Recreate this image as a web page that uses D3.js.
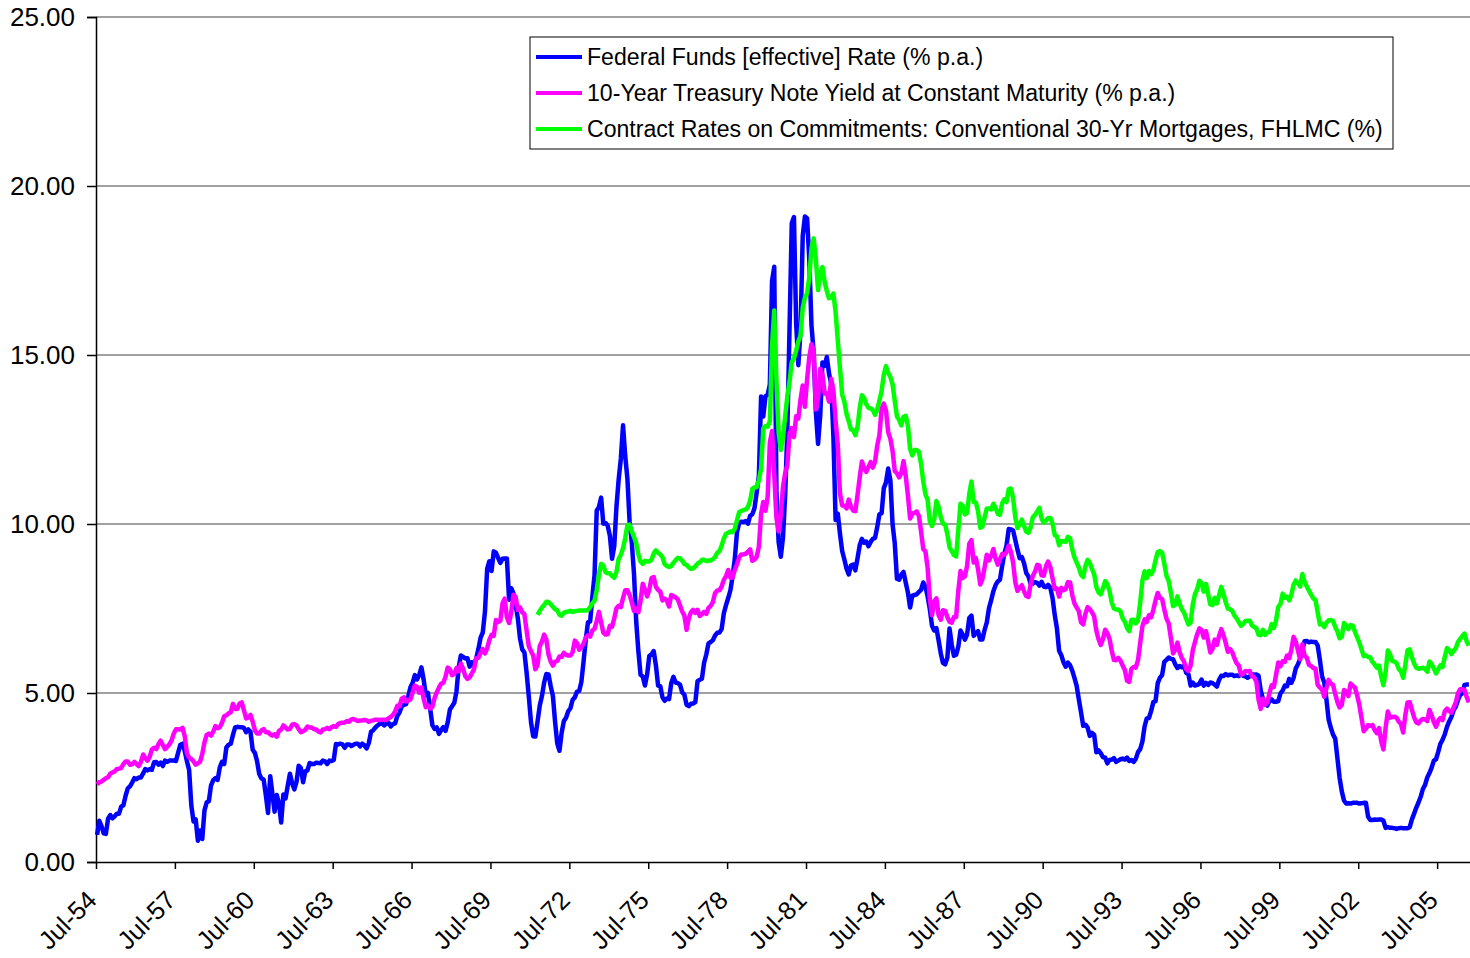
<!DOCTYPE html>
<html>
<head>
<meta charset="utf-8">
<script src="https://cdn.jsdelivr.net/npm/d3@7"></script>
<style>
  body { margin: 0; background: #fff; }
  text { font-family: Arial, "Liberation Sans", sans-serif; fill: #000; }
</style>
</head>
<body>
<div id="chart"></div>
<script>
// Monthly values, Jul-1954 .. Sep-2006 (one row per calendar year)
const fedFunds = [
  0.80, 1.22, 1.06, 0.85, 0.83, 1.28,
  1.39, 1.29, 1.35, 1.43, 1.43, 1.64, 1.68, 1.96, 2.18, 2.24, 2.35, 2.48,
  2.45, 2.50, 2.50, 2.62, 2.75, 2.71, 2.75, 2.73, 2.95, 2.96, 2.88, 2.94,
  2.84, 3.00, 2.96, 3.00, 3.00, 3.00, 2.99, 3.24, 3.47, 3.50, 3.28, 2.98,
  2.72, 1.67, 1.20, 1.26, 0.63, 0.93, 0.68, 1.53, 1.76, 1.80, 2.27, 2.42,
  2.48, 2.43, 2.80, 2.96, 2.90, 3.39, 3.47, 3.50, 3.76, 3.98, 4.00, 3.99,
  3.99, 3.97, 3.84, 3.92, 3.85, 3.32, 3.23, 2.98, 2.60, 2.47, 2.44, 1.98,
  1.45, 2.54, 2.02, 1.49, 1.98, 1.73, 1.17, 2.00, 1.88, 2.26, 2.61, 2.33,
  2.15, 2.37, 2.85, 2.78, 2.36, 2.68, 2.71, 2.93, 2.90, 2.90, 2.94, 2.93,
  2.92, 3.00, 2.98, 2.90, 3.00, 2.99, 3.02, 3.49, 3.48, 3.50, 3.48, 3.38,
  3.48, 3.48, 3.43, 3.47, 3.50, 3.50, 3.42, 3.50, 3.45, 3.36, 3.52, 3.85,
  3.90, 3.98, 4.04, 4.09, 4.10, 4.04, 4.09, 4.12, 4.01, 4.08, 4.10, 4.32,
  4.42, 4.60, 4.65, 4.67, 4.90, 5.17, 5.30, 5.53, 5.40, 5.53, 5.76, 5.40,
  4.94, 5.00, 4.53, 4.05, 3.94, 3.98, 3.79, 3.90, 3.99, 3.88, 4.13, 4.51,
  4.61, 4.71, 5.05, 5.76, 6.11, 6.07, 6.02, 6.03, 5.78, 5.91, 5.82, 6.02,
  6.30, 6.64, 6.79, 7.41, 8.67, 8.90, 8.61, 9.19, 9.15, 9.00, 8.85, 8.97,
  8.98, 8.98, 7.76, 8.10, 7.95, 7.61, 7.21, 6.61, 6.29, 6.20, 5.60, 4.90,
  4.14, 3.72, 3.71, 4.16, 4.63, 4.91, 5.31, 5.56, 5.55, 5.20, 4.91, 4.14,
  3.50, 3.29, 3.83, 4.17, 4.27, 4.46, 4.55, 4.80, 4.87, 5.04, 5.06, 5.33,
  5.94, 6.58, 7.09, 7.12, 7.84, 8.49, 10.40, 10.50, 10.78, 10.01, 10.03, 9.95,
  9.65, 8.97, 9.35, 10.51, 11.31, 11.93, 12.92, 12.01, 11.34, 10.06, 9.45, 8.53,
  7.13, 6.24, 5.54, 5.49, 5.22, 5.55, 6.10, 6.14, 6.24, 5.82, 5.22, 5.20,
  4.87, 4.77, 4.84, 4.82, 5.29, 5.48, 5.31, 5.29, 5.25, 5.02, 4.95, 4.65,
  4.61, 4.68, 4.69, 4.73, 5.35, 5.39, 5.42, 5.90, 6.14, 6.47, 6.51, 6.56,
  6.70, 6.78, 6.79, 6.89, 7.36, 7.60, 7.81, 8.04, 8.45, 8.96, 9.76, 10.03,
  10.07, 10.06, 10.09, 10.01, 10.24, 10.29, 10.47, 10.94, 11.43, 13.77, 13.18, 13.78,
  13.82, 14.13, 17.19, 17.61, 10.98, 9.47, 9.03, 9.61, 10.87, 12.81, 15.85, 18.90,
  19.08, 15.93, 14.70, 15.72, 18.52, 19.10, 19.04, 17.82, 15.87, 15.08, 13.31, 12.37,
  13.22, 14.78, 14.68, 14.94, 14.45, 14.15, 12.59, 10.12, 10.31, 9.71, 9.20, 8.95,
  8.68, 8.51, 8.77, 8.80, 8.63, 8.98, 9.37, 9.56, 9.45, 9.48, 9.34, 9.47,
  9.56, 9.59, 9.91, 10.29, 10.32, 11.06, 11.23, 11.64, 11.30, 9.99, 9.43, 8.38,
  8.35, 8.50, 8.58, 8.27, 7.97, 7.53, 7.88, 7.90, 7.92, 7.99, 8.05, 8.27,
  8.14, 7.86, 7.48, 6.99, 6.85, 6.92, 6.56, 6.17, 5.89, 5.85, 6.04, 6.91,
  6.43, 6.10, 6.13, 6.37, 6.85, 6.73, 6.58, 6.73, 7.22, 7.29, 6.69, 6.77,
  6.83, 6.58, 6.58, 6.87, 7.09, 7.51, 7.75, 8.01, 8.19, 8.30, 8.35, 8.76,
  9.12, 9.36, 9.85, 9.84, 9.81, 9.53, 9.24, 8.99, 9.02, 8.84, 8.55, 8.45,
  8.23, 8.24, 8.28, 8.26, 8.18, 8.29, 8.15, 8.13, 8.20, 8.11, 7.81, 7.31,
  6.91, 6.25, 6.12, 5.91, 5.78, 5.90, 5.82, 5.66, 5.45, 5.21, 4.81, 4.43,
  4.03, 4.06, 3.98, 3.73, 3.82, 3.76, 3.25, 3.30, 3.22, 3.10, 3.09, 2.92,
  3.02, 3.03, 3.07, 2.96, 3.00, 3.04, 3.06, 3.03, 3.09, 2.99, 3.02, 2.96,
  3.05, 3.25, 3.34, 3.56, 4.01, 4.25, 4.26, 4.47, 4.73, 4.76, 5.29, 5.45,
  5.53, 5.92, 5.98, 6.05, 6.01, 6.00, 5.85, 5.74, 5.80, 5.76, 5.80, 5.60,
  5.56, 5.22, 5.31, 5.22, 5.24, 5.27, 5.40, 5.22, 5.30, 5.24, 5.31, 5.29,
  5.25, 5.19, 5.39, 5.51, 5.50, 5.56, 5.52, 5.54, 5.54, 5.50, 5.52, 5.50,
  5.56, 5.51, 5.49, 5.45, 5.49, 5.56, 5.54, 5.55, 5.51, 5.07, 4.83, 4.68,
  4.63, 4.76, 4.81, 4.74, 4.74, 4.76, 4.99, 5.07, 5.22, 5.20, 5.42, 5.30,
  5.45, 5.73, 5.85, 6.02, 6.27, 6.53, 6.54, 6.50, 6.52, 6.51, 6.51, 6.40,
  5.98, 5.49, 5.31, 4.80, 4.21, 3.97, 3.77, 3.65, 3.07, 2.49, 2.09, 1.82,
  1.73, 1.74, 1.73, 1.75, 1.75, 1.75, 1.73, 1.74, 1.75, 1.75, 1.34, 1.24,
  1.24, 1.26, 1.25, 1.26, 1.26, 1.22, 1.01, 1.03, 1.01, 1.01, 1.00, 0.98,
  1.00, 1.01, 1.00, 1.00, 1.00, 1.03, 1.26, 1.43, 1.61, 1.76, 1.93, 2.16,
  2.28, 2.50, 2.63, 2.79, 3.00, 3.04, 3.26, 3.50, 3.62, 3.78, 4.00, 4.16,
  4.29, 4.49, 4.59, 4.79, 4.94, 4.99, 5.24, 5.25, 5.25
];

const tenYear = [
  2.30, 2.36, 2.38, 2.43, 2.48, 2.51,
  2.61, 2.65, 2.68, 2.75, 2.76, 2.78, 2.90, 2.97, 2.97, 2.88, 2.89, 2.96,
  2.90, 2.84, 2.96, 3.18, 3.07, 3.00, 3.11, 3.33, 3.38, 3.34, 3.49, 3.59,
  3.46, 3.34, 3.41, 3.48, 3.60, 3.80, 3.93, 3.93, 3.92, 3.97, 3.72, 3.21,
  3.09, 3.05, 2.98, 2.88, 2.92, 2.97, 3.20, 3.54, 3.76, 3.80, 3.74, 3.86,
  4.02, 3.96, 3.99, 4.12, 4.31, 4.34, 4.40, 4.43, 4.68, 4.53, 4.53, 4.69,
  4.72, 4.49, 4.25, 4.28, 4.35, 4.15, 3.90, 3.80, 3.80, 3.89, 3.93, 3.84,
  3.84, 3.78, 3.74, 3.78, 3.71, 3.88, 3.92, 4.04, 3.98, 3.92, 3.94, 4.06,
  4.08, 4.04, 3.93, 3.84, 3.87, 3.91, 4.01, 3.98, 3.98, 3.93, 3.92, 3.86,
  3.83, 3.92, 3.93, 3.97, 3.93, 3.99, 4.02, 4.00, 4.08, 4.11, 4.12, 4.13,
  4.17, 4.15, 4.22, 4.23, 4.20, 4.17, 4.19, 4.19, 4.20, 4.19, 4.15, 4.18,
  4.19, 4.21, 4.21, 4.20, 4.21, 4.21, 4.20, 4.25, 4.29, 4.35, 4.45, 4.62,
  4.61, 4.83, 4.87, 4.75, 4.78, 4.81, 5.02, 5.22, 5.18, 5.01, 5.16, 4.84,
  4.58, 4.63, 4.54, 4.59, 4.85, 5.02, 5.16, 5.28, 5.30, 5.48, 5.75, 5.70,
  5.53, 5.56, 5.74, 5.64, 5.87, 5.72, 5.50, 5.42, 5.46, 5.58, 5.70, 6.03,
  6.04, 6.19, 6.30, 6.17, 6.32, 6.57, 6.72, 6.69, 7.16, 7.10, 7.14, 7.65,
  7.79, 7.24, 7.07, 7.39, 7.91, 7.84, 7.46, 7.53, 7.39, 7.33, 6.84, 6.39,
  6.24, 6.11, 5.70, 5.83, 6.39, 6.52, 6.73, 6.58, 6.14, 5.93, 5.81, 5.93,
  5.95, 6.08, 6.07, 6.19, 6.13, 6.11, 6.11, 6.21, 6.55, 6.48, 6.28, 6.36,
  6.46, 6.64, 6.71, 6.67, 6.85, 6.90, 7.13, 7.40, 7.09, 6.79, 6.73, 6.74,
  6.99, 6.96, 7.21, 7.51, 7.58, 7.54, 7.81, 8.04, 8.04, 7.90, 7.68, 7.43,
  7.50, 7.39, 7.73, 8.23, 8.06, 7.86, 8.06, 8.40, 8.43, 8.14, 8.05, 8.00,
  7.74, 7.79, 7.73, 7.56, 7.90, 7.86, 7.83, 7.77, 7.59, 7.41, 7.29, 6.87,
  7.21, 7.39, 7.46, 7.37, 7.46, 7.28, 7.33, 7.40, 7.34, 7.52, 7.58, 7.69,
  7.96, 8.03, 8.04, 8.15, 8.35, 8.46, 8.64, 8.41, 8.42, 8.64, 8.81, 9.01,
  9.10, 9.10, 9.12, 9.18, 9.25, 8.91, 8.95, 9.03, 9.33, 10.30, 10.65, 10.39,
  10.80, 12.41, 12.75, 11.47, 10.18, 9.78, 10.25, 11.10, 11.51, 11.75, 12.68, 12.84,
  12.57, 13.19, 13.12, 13.68, 14.10, 13.47, 14.28, 14.94, 15.32, 15.15, 13.39, 13.72,
  14.59, 14.43, 13.86, 13.87, 13.62, 14.30, 13.95, 13.06, 12.34, 10.91, 10.55, 10.54,
  10.46, 10.72, 10.51, 10.40, 10.38, 10.85, 11.38, 11.85, 11.65, 11.54, 11.69, 11.83,
  11.67, 11.84, 12.32, 12.63, 13.41, 13.56, 13.36, 12.72, 12.52, 12.16, 11.57, 11.50,
  11.38, 11.51, 11.86, 11.43, 10.85, 10.16, 10.31, 10.33, 10.37, 10.24, 9.78, 9.26,
  9.19, 8.70, 7.78, 7.30, 7.71, 7.80, 7.30, 7.17, 7.45, 7.43, 7.25, 7.11,
  7.08, 7.25, 7.25, 8.02, 8.61, 8.40, 8.45, 8.76, 9.42, 9.52, 8.86, 8.99,
  8.67, 8.21, 8.37, 8.72, 9.09, 8.92, 9.06, 9.26, 8.98, 8.80, 8.96, 9.11,
  9.09, 9.17, 9.36, 9.18, 8.86, 8.28, 8.02, 8.11, 8.19, 8.01, 7.87, 7.84,
  8.21, 8.47, 8.59, 8.79, 8.76, 8.48, 8.47, 8.75, 8.89, 8.72, 8.39, 8.08,
  8.09, 7.85, 8.11, 8.04, 8.07, 8.28, 8.27, 7.90, 7.65, 7.53, 7.42, 7.09,
  7.03, 7.34, 7.54, 7.48, 7.39, 7.26, 6.84, 6.59, 6.42, 6.59, 6.87, 6.77,
  6.60, 6.26, 5.98, 5.97, 6.04, 5.96, 5.81, 5.68, 5.36, 5.33, 5.72, 5.77,
  5.75, 5.97, 6.48, 6.97, 7.18, 7.10, 7.30, 7.24, 7.46, 7.74, 7.96, 7.81,
  7.78, 7.47, 7.20, 7.06, 6.63, 6.17, 6.28, 6.49, 6.20, 6.04, 5.93, 5.71,
  5.65, 5.81, 6.27, 6.51, 6.74, 6.91, 6.87, 6.64, 6.83, 6.53, 6.20, 6.30,
  6.58, 6.42, 6.69, 6.89, 6.71, 6.49, 6.22, 6.30, 6.21, 6.03, 5.88, 5.81,
  5.54, 5.57, 5.65, 5.64, 5.65, 5.50, 5.46, 5.34, 4.81, 4.53, 4.83, 4.65,
  4.72, 5.00, 5.23, 5.18, 5.54, 5.90, 5.79, 5.94, 5.92, 6.11, 6.03, 6.28,
  6.66, 6.52, 6.26, 5.99, 6.44, 6.10, 6.05, 5.83, 5.80, 5.74, 5.72, 5.24,
  5.16, 5.10, 4.89, 5.14, 5.39, 5.28, 5.24, 4.97, 4.73, 4.57, 4.65, 5.09,
  5.04, 4.91, 5.28, 5.21, 5.16, 4.93, 4.65, 4.26, 3.87, 3.94, 4.05, 4.03,
  4.05, 3.90, 3.81, 3.96, 3.57, 3.33, 3.98, 4.45, 4.27, 4.29, 4.30, 4.27,
  4.15, 4.08, 3.83, 4.35, 4.72, 4.73, 4.50, 4.28, 4.13, 4.10, 4.19, 4.23,
  4.22, 4.17, 4.50, 4.34, 4.14, 4.00, 4.18, 4.26, 4.20, 4.46, 4.54, 4.47,
  4.42, 4.57, 4.72, 4.99, 5.11, 5.11, 5.09, 4.88, 4.72
];

// Mortgage series starts Apr-1971
const mortgageStart = 201;
const mortgage = [
  7.31, 7.43, 7.53, 7.60, 7.70, 7.69, 7.63, 7.55, 7.48,
  7.44, 7.32, 7.29, 7.37, 7.40, 7.41, 7.43, 7.40, 7.42, 7.43, 7.44, 7.44,
  7.44, 7.44, 7.46, 7.54, 7.65, 7.73, 8.05, 8.50, 8.82, 8.77, 8.58, 8.54,
  8.54, 8.46, 8.41, 8.58, 8.97, 9.09, 9.28, 9.59, 9.96, 9.98, 9.79, 9.62,
  9.43, 9.10, 8.89, 8.82, 8.91, 8.89, 8.89, 8.94, 9.13, 9.22, 9.15, 9.10,
  9.02, 8.81, 8.76, 8.73, 8.76, 8.85, 8.93, 9.00, 8.98, 8.92, 8.81, 8.79,
  8.72, 8.67, 8.69, 8.75, 8.83, 8.86, 8.94, 8.94, 8.90, 8.92, 8.92, 8.96,
  9.02, 9.15, 9.20, 9.36, 9.57, 9.71, 9.74, 9.78, 9.76, 9.86, 10.11, 10.35,
  10.39, 10.41, 10.43, 10.50, 10.69, 11.04, 11.09, 11.09, 11.30, 11.64, 12.83, 12.90,
  12.88, 13.04, 15.28, 16.32, 14.26, 12.71, 12.19, 12.56, 13.20, 13.79, 14.21, 14.79,
  14.90, 15.13, 15.40, 15.58, 16.40, 16.70, 16.83, 17.29, 18.16, 18.45, 17.83, 16.92,
  17.40, 17.60, 17.16, 16.89, 16.68, 16.70, 16.82, 16.27, 15.43, 14.61, 13.83, 13.62,
  13.25, 13.04, 12.80, 12.78, 12.63, 12.87, 13.42, 13.81, 13.73, 13.54, 13.44, 13.42,
  13.37, 13.23, 13.39, 13.65, 13.94, 14.42, 14.67, 14.47, 14.35, 14.13, 13.64, 13.18,
  13.08, 12.92, 13.17, 13.20, 12.91, 12.22, 12.03, 12.19, 12.19, 12.14, 11.78, 11.26,
  10.88, 10.71, 10.08, 9.94, 10.14, 10.68, 10.51, 10.20, 10.01, 9.98, 9.70, 9.31,
  9.20, 9.08, 9.04, 9.83, 10.60, 10.54, 10.28, 10.33, 10.89, 11.26, 10.65, 10.64,
  10.38, 9.89, 9.93, 10.20, 10.46, 10.46, 10.43, 10.60, 10.48, 10.30, 10.27, 10.61,
  10.73, 10.65, 11.03, 11.05, 10.77, 10.20, 9.88, 9.99, 10.13, 9.95, 9.77, 9.74,
  9.90, 10.20, 10.27, 10.37, 10.48, 10.16, 10.04, 10.10, 10.18, 10.18, 10.01, 9.67,
  9.64, 9.37, 9.50, 9.49, 9.47, 9.62, 9.58, 9.24, 9.01, 8.86, 8.71, 8.50,
  8.43, 8.76, 8.94, 8.85, 8.67, 8.51, 8.13, 7.98, 7.92, 8.09, 8.31, 8.22,
  8.02, 7.68, 7.50, 7.47, 7.47, 7.42, 7.21, 7.11, 6.92, 6.83, 7.16, 7.17,
  7.06, 7.15, 7.68, 8.32, 8.60, 8.40, 8.61, 8.51, 8.64, 8.93, 9.17, 9.20,
  9.15, 8.83, 8.46, 8.32, 7.96, 7.57, 7.61, 7.86, 7.64, 7.48, 7.38, 7.20,
  7.03, 7.08, 7.62, 7.93, 8.07, 8.32, 8.25, 8.00, 8.23, 7.92, 7.62, 7.60,
  7.82, 7.65, 7.90, 8.14, 7.94, 7.69, 7.50, 7.48, 7.43, 7.29, 7.21, 7.10,
  6.99, 7.04, 7.13, 7.14, 7.14, 7.00, 6.95, 6.92, 6.72, 6.71, 6.87, 6.72,
  6.79, 6.81, 7.04, 6.92, 7.15, 7.55, 7.63, 7.94, 7.82, 7.85, 7.74, 7.91,
  8.21, 8.33, 8.24, 8.15, 8.52, 8.29, 8.15, 8.03, 7.91, 7.80, 7.75, 7.38,
  7.03, 7.05, 6.95, 7.08, 7.15, 7.16, 7.13, 6.95, 6.82, 6.62, 6.66, 7.07,
  7.00, 6.89, 7.01, 6.99, 6.81, 6.65, 6.49, 6.29, 6.09, 6.11, 6.07, 6.05,
  5.92, 5.84, 5.75, 5.81, 5.48, 5.23, 5.63, 6.26, 6.15, 5.95, 5.93, 5.88,
  5.71, 5.64, 5.45, 5.83, 6.27, 6.29, 6.06, 5.87, 5.75, 5.72, 5.73, 5.75,
  5.71, 5.63, 5.93, 5.86, 5.72, 5.58, 5.70, 5.82, 5.77, 6.07, 6.33, 6.27,
  6.15, 6.25, 6.32, 6.51, 6.60, 6.68, 6.76, 6.52, 6.40
];

const xTickLabels = ['Jul-54', 'Jul-57', 'Jul-60', 'Jul-63', 'Jul-66', 'Jul-69', 'Jul-72',
  'Jul-75', 'Jul-78', 'Jul-81', 'Jul-84', 'Jul-87', 'Jul-90', 'Jul-93', 'Jul-96',
  'Jul-99', 'Jul-02', 'Jul-05'];
const yTicks = [0, 5, 10, 15, 20, 25];

const seriesNames = [
  'Federal Funds [effective] Rate (% p.a.)',
  '10-Year Treasury Note Yield at Constant Maturity (% p.a.)',
  'Contract Rates on Commitments: Conventional 30-Yr Mortgages, FHLMC (%)'
];
const seriesColors = ['#0000ff', '#ff00ff', '#00ff00'];

const width = 1470;
const height = 958;
const margin = { top: 17, right: 0, bottom: 96, left: 96 };
const nMonths = fedFunds.length;

const svg = d3.select('#chart').append('svg')
  .attr('width', width)
  .attr('height', height);

const x = d3.scaleLinear()
  .domain([0, nMonths])
  .range([margin.left, width - margin.right]);

const y = d3.scaleLinear()
  .domain([0, 25])
  .range([height - margin.bottom, margin.top]);

// Gridlines
svg.append('g')
  .selectAll('line')
  .data(yTicks.filter(d => d > 0))
  .join('line')
  .attr('x1', margin.left)
  .attr('x2', width - margin.right)
  .attr('y1', d => y(d))
  .attr('y2', d => y(d))
  .attr('stroke', '#808080')
  .attr('stroke-width', 1.5);

// Y axis
const yAxis = svg.append('g')
  .attr('transform', `translate(${margin.left},0)`)
  .call(d3.axisLeft(y).tickValues(yTicks).tickFormat(d3.format('.2f')).tickSize(9).tickPadding(12));
yAxis.select('.domain').attr('stroke', '#000').attr('stroke-width', 1.5);
yAxis.selectAll('.tick line').attr('stroke', '#000').attr('stroke-width', 1.5);
yAxis.selectAll('.tick text')
  .attr('font-size', 26)
  .attr('font-family', 'Arial, "Liberation Sans", sans-serif')
  .attr('fill', '#000');

// X axis (category style, tick every 36 months)
const xTickValues = xTickLabels.map((d, i) => i * 36);
const xAxis = svg.append('g')
  .attr('transform', `translate(0,${height - margin.bottom})`)
  .call(d3.axisBottom(x).tickValues(xTickValues).tickSize(7).tickSizeOuter(0)
    .tickFormat((d, i) => xTickLabels[i]));
xAxis.select('.domain').attr('stroke', '#000').attr('stroke-width', 1.5);
xAxis.selectAll('.tick line').attr('stroke', '#000').attr('stroke-width', 1.5);
xAxis.selectAll('.tick text')
  .attr('font-size', 25.5)
  .attr('font-family', 'Arial, "Liberation Sans", sans-serif')
  .attr('fill', '#000')
  .attr('text-anchor', 'end')
  .attr('y', 0)
  .attr('dy', '0.71em')
  .attr('transform', 'translate(-11,27) rotate(-45)');

// Lines
const line = d3.line()
  .x(d => x(d.i + 0.5))
  .y(d => y(d.v));

const seriesData = [
  fedFunds.map((v, i) => ({ i, v })),
  tenYear.map((v, i) => ({ i, v })),
  mortgage.map((v, i) => ({ i: i + mortgageStart, v }))
];

seriesData.forEach((data, k) => {
  svg.append('path')
    .datum(data)
    .attr('fill', 'none')
    .attr('stroke', seriesColors[k])
    .attr('stroke-width', 4.5)
    .attr('stroke-linejoin', 'round')
    .attr('d', line);
});

// Legend
const legend = svg.append('g');
legend.append('rect')
  .attr('x', 530)
  .attr('y', 37)
  .attr('width', 863)
  .attr('height', 112)
  .attr('fill', '#fff')
  .attr('stroke', '#000')
  .attr('stroke-width', 1);

seriesNames.forEach((name, k) => {
  const ly = 57 + k * 36;
  legend.append('line')
    .attr('x1', 536)
    .attr('x2', 582)
    .attr('y1', ly)
    .attr('y2', ly)
    .attr('stroke', seriesColors[k])
    .attr('stroke-width', 4);
  legend.append('text')
    .attr('x', 587)
    .attr('y', ly)
    .attr('dy', '0.35em')
    .attr('font-size', 23.1)
    .text(name);
});
</script>
</body>
</html>
